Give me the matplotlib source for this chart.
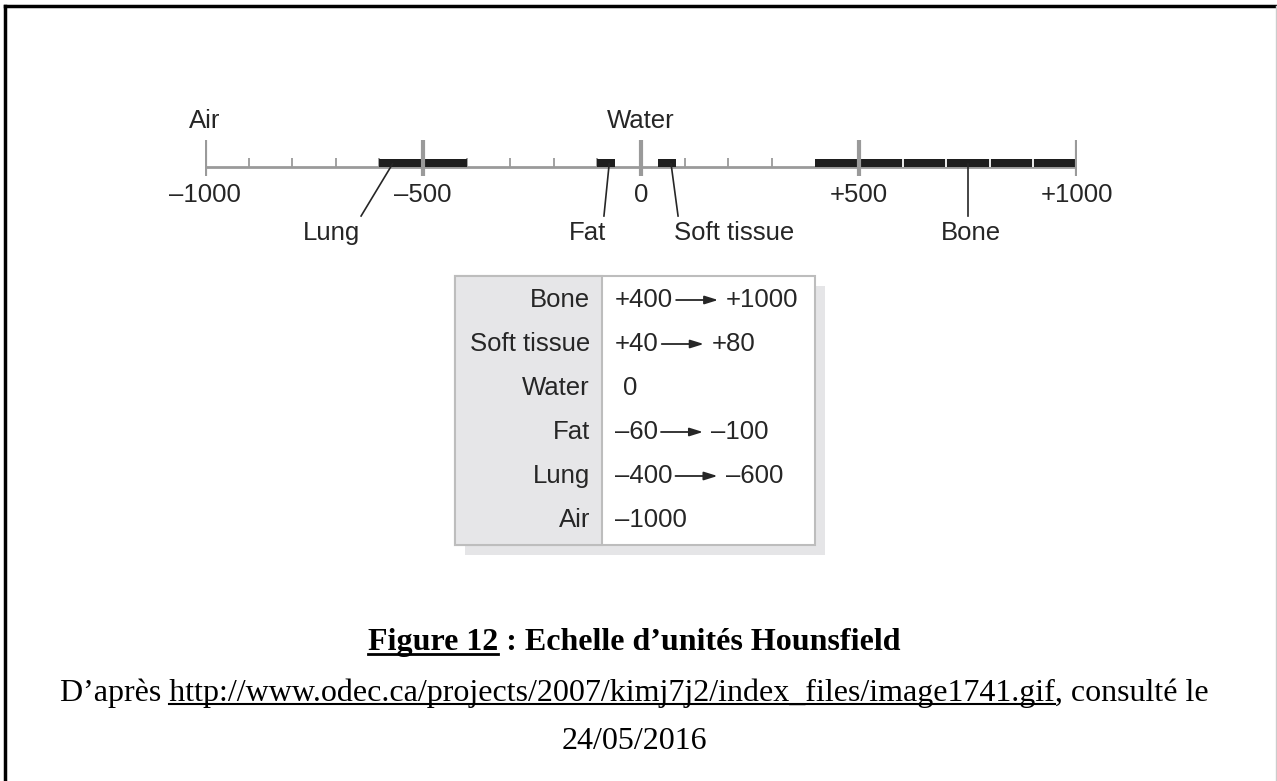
import matplotlib
matplotlib.use("Agg")
import matplotlib.pyplot as plt

# Hounsfield scale data
hu_min, hu_max = -1000, 1000
major_ticks = [-1000, -500, 0, 500, 1000]
major_labels = ["\u20131000", "\u2013500", "0", "+500", "+1000"]
minor_ticks = [-900, -800, -700, -600, -400, -300, -200, -100, 100, 200, 300]

tissues = ["Lung", "Fat", "Soft tissue", "Bone"]
range_lo = [-600, -100, 40, 400]
range_hi = [-400, -60, 80, 1000]
bone_divisions = [600, 700, 800, 900]

# callouts: (point on bar, point at label) in HU
callout_from = [-570, -73, 69, 750]
callout_to = [-642, -85, 85, 750]
label_x = [-711, -122, 76, 757]
label_ha = ["center", "center", "left", "center"]

top_labels = ["Air", "Water"]
top_label_x = [-1000, 0]

# table
table_names = ["Bone", "Soft tissue", "Water", "Fat", "Lung", "Air"]
table_from = ["+400", "+40", "0", "\u201360", "\u2013400", "\u20131000"]
table_to = ["+1000", "+80", None, "\u2013100", "\u2013600", None]

W, H = 1277, 781
fig = plt.figure(figsize=(W / 100, H / 100), dpi=100)
fig.patch.set_facecolor("white")

sans = ["Liberation Sans", "DejaVu Sans"]
serif = ["Liberation Serif", "DejaVu Serif"]
ink = "#262626"
grey = "#9a9a9a"

# layout axes in pixel coordinates (y down)
lay = fig.add_axes([0, 0, 1, 1])
lay.set_xlim(0, W)
lay.set_ylim(H, 0)
lay.axis("off")

# scale axes: x in HU, y in pixels
x0, x1 = 205, 1077
y_top, y_bot = 100, 260
sc = fig.add_axes([x0 / W, 1 - y_bot / H, (x1 - x0) / W, (y_bot - y_top) / H])
sc.set_xlim(hu_min, hu_max)
sc.set_ylim(y_bot, y_top)
sc.axis("off")

axis_y = 167
sc.hlines(axis_y, hu_min, hu_max, color=grey, lw=2, zorder=1)
sc.vlines(minor_ticks, 158, axis_y, color=grey, lw=1.3, zorder=1)
sc.barh([163], [h - l for l, h in zip(range_lo, range_hi)], left=range_lo,
        height=8, color="#1e1e1e", zorder=2)
sc.vlines(bone_divisions, 159, axis_y, color="white", lw=1.3, zorder=3)
sc.vlines(major_ticks, 140, 176, color=grey, lw=3, zorder=4)

for v, lab in zip(major_ticks, major_labels):
    sc.text(v, 202, lab, ha="center", va="baseline", fontsize=18.5,
            family=sans, color=ink)
for v, lab in zip(top_label_x, top_labels):
    sc.text(v, 128, lab, ha="center", va="baseline", fontsize=18.5,
            family=sans, color=ink)

for a, b, lx, ha, name in zip(callout_from, callout_to, label_x, label_ha, tissues):
    sc.plot([a, b], [164, 216], color=ink, lw=1.2, zorder=5)
    sc.text(lx, 240, name, ha=ha, va="baseline", fontsize=18.5, family=sans, color=ink)

# table box
tl, tr, tt, tb, tdiv = 455, 815, 276, 545, 602
lay.add_patch(plt.Rectangle((tl + 10, tt + 10), tr - tl, tb - tt, color="#e5e5e7", lw=0))
lay.add_patch(plt.Rectangle((tl, tt), tr - tl, tb - tt, facecolor="white",
                            edgecolor="#bdbdbd", lw=1.5))
lay.add_patch(plt.Rectangle((tl, tt), tdiv - tl, tb - tt, facecolor="#e6e6e8",
                            edgecolor="#bdbdbd", lw=1.5))

row_base = [307, 351, 395, 439, 483, 527]
renderer = fig.canvas.get_renderer()
inv = lay.transData.inverted()
for y, name, a, b in zip(row_base, table_names, table_from, table_to):
    lay.text(590, y, name, ha="right", va="baseline", fontsize=18.5, family=sans, color=ink)
    xa = 630 if a == "0" else 615
    t = lay.text(xa, y, a, ha="center" if a == "0" else "left", va="baseline",
                 fontsize=18.5, family=sans, color=ink)
    if b is None:
        continue
    ext = t.get_window_extent(renderer)
    xe = inv.transform((ext.x1, 0))[0]
    lay.annotate("", xy=(xe + 45, y - 7), xytext=(xe + 3, y - 7),
                 arrowprops=dict(arrowstyle="-|>,head_length=0.8,head_width=0.25",
                                 color=ink, lw=1.3, shrinkA=0, shrinkB=0))
    lay.text(xe + 53, y, b, ha="left", va="baseline", fontsize=18.5, family=sans, color=ink)


def prefix_width(prefix_text, **kw):
    probe = lay.text(0, 0, prefix_text, **kw)
    pw = probe.get_window_extent(renderer).width
    probe.remove()
    return pw


def left_edge(txt_obj):
    ext = txt_obj.get_window_extent(renderer)
    return inv.transform((ext.x0, 0))[0]


cx = 634
cap_kw = dict(fontsize=23, family=serif, color="black")
t1 = lay.text(cx, 650, "Figure 12 : Echelle d\u2019unit\u00e9s Hounsfield",
              ha="center", va="baseline", fontweight="bold", **cap_kw)
xs = left_edge(t1)
lay.plot([xs, xs + prefix_width("Figure 12", fontweight="bold", **cap_kw)],
         [653.5, 653.5], color="black", lw=2)

url = "http://www.odec.ca/projects/2007/kimj7j2/index_files/image1741.gif"
lead = "D\u2019apr\u00e8s "
t2 = lay.text(cx, 701, lead + url + ", consult\u00e9 le",
              ha="center", va="baseline", **cap_kw)
xs = left_edge(t2)
lay.plot([xs + prefix_width(lead, **cap_kw), xs + prefix_width(lead + url, **cap_kw)],
         [704, 704], color="black", lw=1.5)

lay.text(cx, 749, "24/05/2016", ha="center", va="baseline", **cap_kw)

# page frame
lay.plot([5, W], [6, 6], color="black", lw=2.5)
lay.plot([5, 5], [6, H], color="black", lw=2.5)
lay.plot([W - 1.5, W - 1.5], [6, H], color="#cccccc", lw=1)

fig.savefig("out.png", dpi=100)
